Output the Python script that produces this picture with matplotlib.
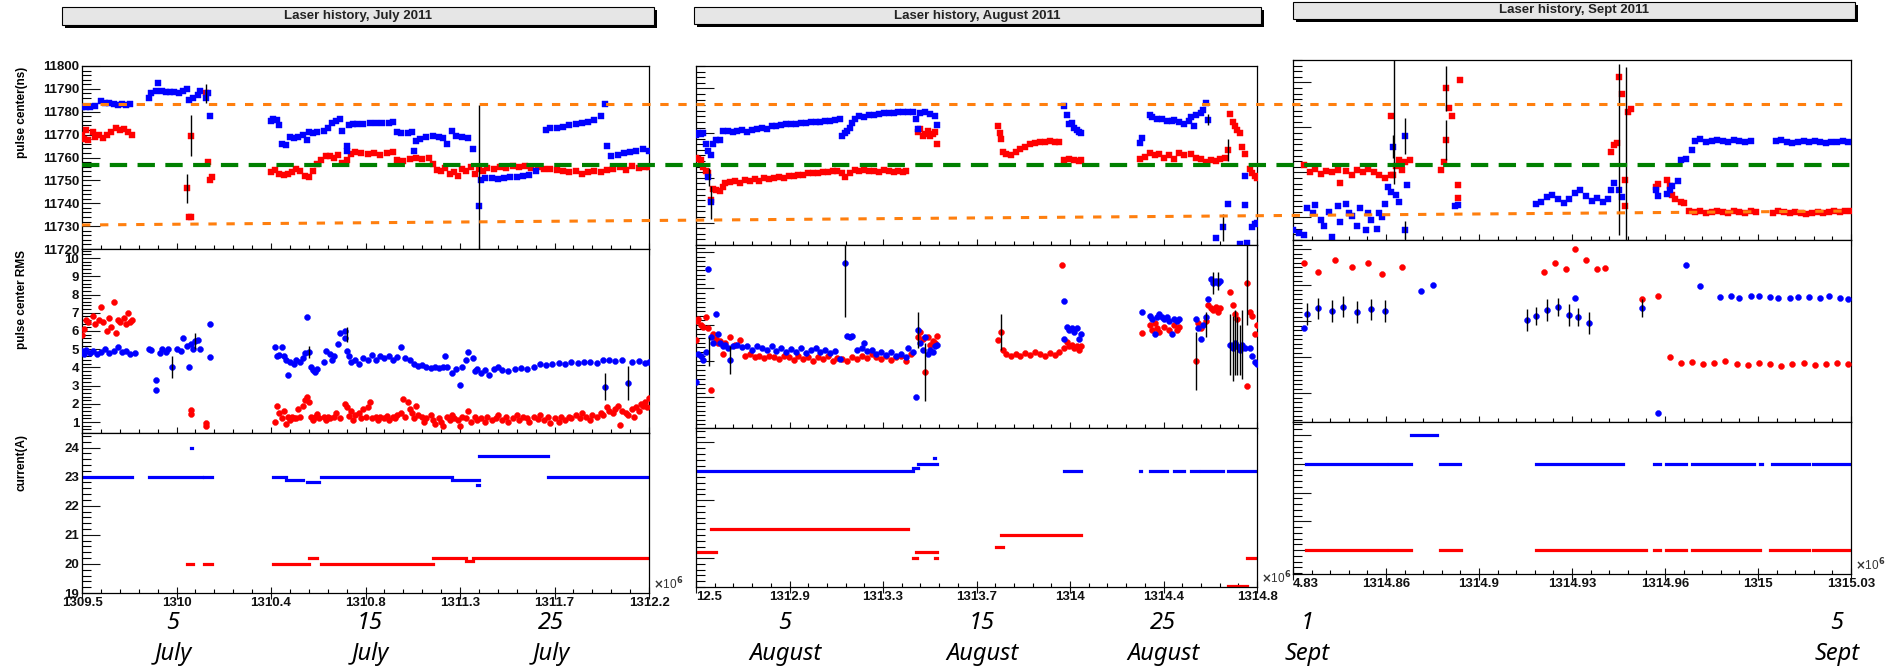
import numpy as np
import matplotlib
matplotlib.use("Agg")
import matplotlib.pyplot as plt
import matplotlib.transforms as mtransforms
from matplotlib.lines import Line2D
from matplotlib.patches import Rectangle
from matplotlib.ticker import (FixedLocator, MultipleLocator, AutoMinorLocator,
                               FormatStrFormatter, NullFormatter)


# =========================================================
# Data (time in units of 1e6 s)
# =========================================================

# ---- July : pulse center (ns) ----
JUL_TOP_BLUE = [
    (1309.50, 11782), (1309.52, 11782), (1309.54, 11782), (1309.56, 11782.5),
    (1309.59, 11784.5), (1309.61, 11784), (1309.63, 11784), (1309.65, 11783.5), (1309.67, 11783),
    (1309.69, 11783.5), (1309.71, 11783), (1309.73, 11783.5),
    (1309.82, 11786), (1309.83, 11788), (1309.85, 11789), (1309.86, 11792.5), (1309.88, 11789),
    (1309.90, 11788.5), (1309.92, 11788.5), (1309.94, 11788.5), (1309.96, 11788), (1309.98, 11789),
    (1310.00, 11790), (1310.01, 11785), (1310.03, 11786), (1310.05, 11787.5), (1310.06, 11789),
    (1310.09, 11786), (1310.10, 11788), (1310.11, 11778),
    (1310.40, 11776), (1310.41, 11777), (1310.43, 11776.5), (1310.44, 11774), (1310.45, 11766),
    (1310.47, 11765.5), (1310.49, 11769), (1310.51, 11768.5), (1310.53, 11769), (1310.55, 11770),
    (1310.57, 11767.5), (1310.58, 11771), (1310.60, 11770.5), (1310.62, 11771), (1310.65, 11771.5),
    (1310.67, 11773), (1310.69, 11775), (1310.71, 11776), (1310.73, 11777), (1310.74, 11771.5),
    (1310.76, 11765), (1310.76, 11763), (1310.77, 11774), (1310.79, 11774.5), (1310.81, 11774.5),
    (1310.84, 11774.5), (1310.87, 11775), (1310.90, 11775), (1310.93, 11775), (1310.96, 11775),
    (1310.98, 11775.5), (1311.00, 11771), (1311.02, 11770.5), (1311.05, 11770.5), (1311.07, 11771),
    (1311.08, 11763), (1311.09, 11767), (1311.11, 11768), (1311.14, 11769), (1311.17, 11769.5),
    (1311.20, 11769), (1311.22, 11768.5), (1311.24, 11766), (1311.26, 11771.5), (1311.28, 11769.5),
    (1311.31, 11769), (1311.34, 11768.5), (1311.36, 11763.5), (1311.39, 11739),
    (1311.40, 11750), (1311.42, 11751), (1311.45, 11751), (1311.48, 11750.5), (1311.51, 11751),
    (1311.54, 11751.5), (1311.57, 11751.5), (1311.60, 11752), (1311.63, 11752.5), (1311.66, 11754),
    (1311.71, 11772), (1311.73, 11773), (1311.76, 11773), (1311.79, 11773.5), (1311.82, 11774),
    (1311.85, 11774.5), (1311.88, 11775), (1311.91, 11775.5), (1311.94, 11776.5), (1311.97, 11778),
    (1311.99, 11783.5), (1312.00, 11765), (1312.02, 11760.5), (1312.05, 11761), (1312.08, 11762),
    (1312.11, 11762.5), (1312.14, 11763), (1312.17, 11763.5), (1312.20, 11763),
]
JUL_TOP_RED = [
    (1309.50, 11770), (1309.51, 11768), (1309.52, 11772), (1309.53, 11767.5), (1309.55, 11771),
    (1309.56, 11769), (1309.58, 11770), (1309.60, 11768.5), (1309.62, 11770), (1309.64, 11771),
    (1309.66, 11773), (1309.68, 11772), (1309.70, 11772.5), (1309.72, 11771), (1309.74, 11770),
    (1310.00, 11746.5), (1310.01, 11734), (1310.02, 11734), (1310.02, 11769.5), (1310.09, 11788),
    (1310.10, 11758), (1310.11, 11750), (1310.12, 11751.5),
    (1310.40, 11753.5), (1310.42, 11754.5), (1310.44, 11753), (1310.46, 11752.5), (1310.48, 11753),
    (1310.50, 11753.5), (1310.52, 11755), (1310.54, 11754), (1310.56, 11752), (1310.58, 11751.5),
    (1310.60, 11754), (1310.62, 11757), (1310.64, 11759), (1310.66, 11760.5), (1310.68, 11760.5),
    (1310.70, 11760), (1310.72, 11761), (1310.74, 11757.5), (1310.76, 11759), (1310.78, 11761.5),
    (1310.80, 11762.5), (1310.83, 11762), (1310.86, 11761.5), (1310.89, 11762), (1310.92, 11761),
    (1310.95, 11762), (1310.98, 11762.5), (1311.00, 11759), (1311.03, 11758.5), (1311.06, 11759.5),
    (1311.09, 11760), (1311.12, 11759.5), (1311.15, 11760), (1311.17, 11757), (1311.19, 11754.5),
    (1311.21, 11754), (1311.23, 11755.5), (1311.25, 11753), (1311.27, 11753.5), (1311.29, 11752),
    (1311.31, 11755), (1311.33, 11754), (1311.35, 11756), (1311.37, 11753), (1311.39, 11755),
    (1311.41, 11754), (1311.43, 11755.5), (1311.46, 11755), (1311.49, 11756), (1311.52, 11755.5),
    (1311.55, 11756.5), (1311.58, 11756), (1311.61, 11756.5), (1311.64, 11755.5), (1311.67, 11756),
    (1311.70, 11755), (1311.73, 11755), (1311.76, 11754.5), (1311.79, 11754), (1311.82, 11753.5),
    (1311.85, 11754), (1311.88, 11753), (1311.91, 11753.5), (1311.94, 11754), (1311.97, 11753.5),
    (1312.00, 11754.5), (1312.03, 11755), (1312.06, 11756), (1312.09, 11754.5), (1312.12, 11756.5),
    (1312.15, 11755.5), (1312.18, 11756), (1312.20, 11756),
]
JUL_TOP_ERR = [(1310.00, 11746.5, 6.5), (1310.02, 11769.5, 9), (1310.09, 11788, 4),
               (1311.39, 11739, 44)]

# ---- July : pulse center RMS ----
JUL_RMS_BLUE = [
    (1309.50, 4.9), (1309.51, 4.75), (1309.52, 4.95), (1309.54, 4.8), (1309.55, 4.9), (1309.57, 4.75),
    (1309.59, 4.85), (1309.61, 5.0), (1309.63, 4.8), (1309.65, 4.9), (1309.67, 5.1), (1309.69, 4.85),
    (1309.71, 4.9), (1309.73, 4.75), (1309.75, 4.8),
    (1309.82, 5.0), (1309.83, 4.95), (1309.85, 3.3), (1309.85, 2.75), (1309.87, 4.8), (1309.88, 5.0),
    (1309.90, 4.85), (1309.91, 5.0), (1309.93, 4.0), (1309.95, 5.0), (1309.97, 4.9), (1309.98, 5.6),
    (1310.00, 5.2), (1310.01, 4.05), (1310.02, 5.3), (1310.03, 5.0), (1310.04, 5.45), (1310.05, 5.5),
    (1310.06, 5.0), (1310.11, 6.4), (1310.11, 4.55),
    (1310.42, 5.1), (1310.43, 4.6), (1310.44, 4.7), (1310.45, 5.1), (1310.46, 4.6), (1310.47, 4.4),
    (1310.48, 3.6), (1310.49, 4.3), (1310.51, 4.2), (1310.52, 4.4), (1310.54, 4.3), (1310.55, 4.5),
    (1310.56, 4.8), (1310.57, 6.75), (1310.58, 4.85), (1310.59, 4.0), (1310.60, 3.85), (1310.61, 3.75),
    (1310.62, 3.9), (1310.65, 4.3), (1310.66, 4.9), (1310.68, 4.75), (1310.69, 4.4), (1310.70, 4.65),
    (1310.72, 5.3), (1310.73, 5.9), (1310.75, 6.0), (1310.75, 5.6), (1310.76, 4.9), (1310.77, 4.6),
    (1310.78, 4.3), (1310.80, 4.4), (1310.82, 4.2), (1310.84, 4.5), (1310.86, 4.4), (1310.88, 4.7),
    (1310.90, 4.4), (1310.92, 4.6), (1310.94, 4.5), (1310.96, 4.6), (1310.98, 4.4), (1311.00, 4.55),
    (1311.02, 5.1), (1311.04, 4.5), (1311.06, 4.4), (1311.08, 4.2), (1311.10, 4.1), (1311.12, 4.15),
    (1311.14, 4.0), (1311.16, 3.95), (1311.18, 4.0), (1311.20, 3.95), (1311.22, 4.05), (1311.23, 4.6),
    (1311.24, 4.0), (1311.26, 3.7), (1311.28, 3.9), (1311.30, 3.05), (1311.31, 4.0), (1311.33, 4.4),
    (1311.34, 4.85), (1311.36, 4.5), (1311.37, 3.8), (1311.38, 3.9), (1311.40, 3.7), (1311.42, 3.85),
    (1311.44, 3.6), (1311.46, 3.9), (1311.48, 4.0), (1311.50, 3.85), (1311.53, 3.8), (1311.56, 3.9),
    (1311.59, 3.95), (1311.62, 3.9), (1311.65, 4.0), (1311.68, 4.2), (1311.71, 4.15), (1311.74, 4.2),
    (1311.77, 4.25), (1311.80, 4.2), (1311.83, 4.3), (1311.86, 4.25), (1311.89, 4.3), (1311.92, 4.3),
    (1311.95, 4.25), (1311.98, 4.4), (1311.99, 2.95), (1312.01, 4.4), (1312.04, 4.35), (1312.07, 4.4),
    (1312.10, 3.15), (1312.12, 4.3), (1312.15, 4.35), (1312.18, 4.25), (1312.20, 4.3),
]
JUL_RMS_RED = [
    (1309.50, 5.8), (1309.51, 6.1), (1309.52, 6.6), (1309.53, 6.5), (1309.55, 6.8), (1309.56, 6.4),
    (1309.58, 6.6), (1309.59, 7.3), (1309.60, 6.5), (1309.62, 6.0), (1309.63, 6.7), (1309.64, 6.2),
    (1309.65, 7.6), (1309.66, 5.9), (1309.67, 6.6), (1309.68, 6.5), (1309.70, 6.7), (1309.71, 6.4),
    (1309.72, 7.0), (1309.73, 6.5), (1309.74, 6.6),
    (1310.02, 1.45), (1310.02, 1.65), (1310.09, 0.8), (1310.09, 0.95),
    (1310.42, 1.0), (1310.43, 1.9), (1310.44, 1.5), (1310.45, 1.2), (1310.46, 1.6), (1310.47, 0.9),
    (1310.48, 1.3), (1310.49, 1.1), (1310.50, 1.3), (1310.51, 1.2), (1310.52, 1.25), (1310.53, 1.7),
    (1310.54, 1.3), (1310.55, 1.9), (1310.56, 2.2), (1310.57, 2.35), (1310.58, 2.1), (1310.59, 1.3),
    (1310.60, 1.1), (1310.61, 1.3), (1310.62, 1.45), (1310.63, 1.2), (1310.65, 1.3), (1310.66, 1.1),
    (1310.67, 1.3), (1310.68, 1.2), (1310.70, 1.3), (1310.71, 1.5), (1310.73, 1.2), (1310.75, 2.0),
    (1310.76, 1.8), (1310.77, 1.35), (1310.78, 1.6), (1310.79, 1.1), (1310.80, 1.4), (1310.82, 1.5),
    (1310.83, 1.2), (1310.84, 1.7), (1310.85, 1.3), (1310.86, 1.8), (1310.87, 2.1), (1310.88, 1.2),
    (1310.90, 1.3), (1310.91, 1.1), (1310.92, 1.3), (1310.94, 1.2), (1310.95, 1.35), (1310.96, 1.1),
    (1310.98, 1.3), (1310.99, 1.2), (1311.00, 1.4), (1311.02, 1.5), (1311.03, 2.25), (1311.04, 1.3),
    (1311.05, 2.1), (1311.06, 1.7), (1311.07, 1.5), (1311.08, 1.2), (1311.09, 1.9), (1311.10, 1.4),
    (1311.12, 1.3), (1311.13, 1.0), (1311.14, 1.2), (1311.16, 1.4), (1311.17, 1.1), (1311.18, 0.9),
    (1311.20, 1.2), (1311.21, 1.0), (1311.22, 0.8), (1311.24, 1.3), (1311.25, 1.1), (1311.26, 1.4),
    (1311.27, 1.2), (1311.29, 1.1), (1311.30, 0.8), (1311.31, 1.3), (1311.33, 1.2), (1311.34, 1.6),
    (1311.35, 1.0), (1311.37, 1.3), (1311.38, 1.1), (1311.40, 1.2), (1311.42, 1.0), (1311.43, 1.3),
    (1311.45, 1.1), (1311.47, 1.2), (1311.48, 1.4), (1311.50, 1.1), (1311.52, 1.3), (1311.53, 1.0),
    (1311.55, 1.2), (1311.57, 1.4), (1311.58, 1.1), (1311.60, 1.3), (1311.62, 1.2), (1311.63, 1.0),
    (1311.65, 1.3), (1311.67, 1.15), (1311.68, 1.4), (1311.70, 1.1), (1311.72, 1.3), (1311.73, 0.95),
    (1311.75, 1.2), (1311.77, 1.0), (1311.78, 1.3), (1311.80, 1.1), (1311.82, 1.3), (1311.83, 1.2),
    (1311.85, 1.4), (1311.87, 1.2), (1311.88, 1.5), (1311.90, 1.3), (1311.92, 1.1), (1311.93, 1.4),
    (1311.95, 1.3), (1311.97, 1.5), (1311.98, 1.4), (1312.00, 1.8), (1312.01, 1.6), (1312.03, 1.5),
    (1312.04, 1.7), (1312.05, 1.9), (1312.06, 0.85), (1312.07, 1.6), (1312.09, 1.5), (1312.10, 1.4),
    (1312.12, 1.7), (1312.13, 1.3), (1312.14, 1.8), (1312.15, 1.6), (1312.16, 2.0), (1312.17, 1.9),
    (1312.18, 2.1), (1312.19, 1.8), (1312.20, 2.3),
]
JUL_RMS_ERR = [(1309.93, 4.0, 0.6), (1310.04, 5.45, 0.45), (1310.58, 4.85, 0.35),
               (1310.76, 5.8, 0.4), (1311.99, 2.95, 0.75), (1312.10, 3.15, 0.95)]

# ---- July : current (A), segments (start, end, level) ----
JUL_CUR_BLUE = [
    (1309.50, 1309.74, 23.0), (1309.82, 1310.07, 23.0), (1310.08, 1310.12, 23.0),
    (1310.02, 1310.025, 24.0), (1310.41, 1310.47, 23.0), (1310.47, 1310.55, 22.9),
    (1310.57, 1310.63, 22.8), (1310.64, 1311.26, 23.0), (1311.26, 1311.39, 22.9),
    (1311.38, 1311.39, 22.7), (1311.39, 1311.72, 23.7), (1311.72, 1312.20, 23.0),
]
JUL_CUR_RED = [
    (1310.00, 1310.03, 20.0), (1310.08, 1310.12, 20.0), (1310.41, 1310.58, 20.0),
    (1310.58, 1310.62, 20.2), (1310.64, 1311.17, 20.0), (1311.17, 1311.33, 20.2),
    (1311.33, 1311.36, 20.1), (1311.36, 1312.20, 20.2),
]

# ---- August : pulse center (ns) ----
AUG_TOP_BLUE = [
    (1312.50, 11769), (1312.51, 11770), (1312.52, 11769.5), (1312.53, 11770), (1312.54, 11765),
    (1312.55, 11762), (1312.55, 11750.5), (1312.56, 11739), (1312.56, 11760), (1312.57, 11765),
    (1312.58, 11767), (1312.60, 11767), (1312.61, 11771), (1312.63, 11771), (1312.65, 11770.5),
    (1312.67, 11771), (1312.69, 11771.5), (1312.71, 11770.5), (1312.73, 11771.5), (1312.75, 11772),
    (1312.77, 11772.5), (1312.79, 11772), (1312.81, 11773), (1312.83, 11773), (1312.85, 11773.5),
    (1312.87, 11774), (1312.89, 11774), (1312.91, 11774), (1312.93, 11774.5), (1312.95, 11774.5),
    (1312.97, 11775), (1312.99, 11775), (1313.01, 11775), (1313.03, 11775.5), (1313.05, 11775.5),
    (1313.07, 11776), (1313.09, 11776.5), (1313.10, 11768.5), (1313.11, 11770), (1313.12, 11771),
    (1313.13, 11772.5), (1313.14, 11774.5), (1313.15, 11776.5), (1313.17, 11777.5), (1313.19, 11777),
    (1313.21, 11778), (1313.23, 11778), (1313.25, 11778.5), (1313.27, 11779), (1313.29, 11779),
    (1313.31, 11779), (1313.33, 11779.5), (1313.35, 11779.5), (1313.37, 11779.5), (1313.39, 11779.5),
    (1313.40, 11776.5), (1313.41, 11772), (1313.42, 11779), (1313.44, 11779.5), (1313.46, 11778.5),
    (1313.48, 11777.5), (1313.49, 11773.5),
    (1314.01, 11782), (1314.02, 11778), (1314.03, 11774), (1314.04, 11774.5), (1314.05, 11772.5),
    (1314.06, 11771.5), (1314.07, 11770.5), (1314.08, 11770),
    (1314.32, 11765.5), (1314.33, 11768), (1314.36, 11778), (1314.37, 11777), (1314.39, 11776.5),
    (1314.41, 11776.5), (1314.43, 11775.5), (1314.45, 11775.5), (1314.46, 11776), (1314.48, 11775),
    (1314.50, 11774), (1314.52, 11775.5), (1314.53, 11777), (1314.54, 11773), (1314.55, 11778),
    (1314.57, 11779), (1314.58, 11780.5), (1314.59, 11783.5), (1314.60, 11776), (1314.63, 11723),
    (1314.66, 11728), (1314.68, 11738.5), (1314.73, 11720.5), (1314.75, 11738), (1314.75, 11751),
    (1314.76, 11721), (1314.78, 11728), (1314.79, 11729.5), (1314.80, 11730),
]
AUG_TOP_RED = [
    (1312.50, 11759), (1312.51, 11758.5), (1312.52, 11758), (1312.53, 11755), (1312.54, 11753),
    (1312.55, 11752), (1312.56, 11740), (1312.57, 11745), (1312.58, 11744.5), (1312.60, 11744),
    (1312.61, 11746), (1312.62, 11747.5), (1312.64, 11748), (1312.66, 11748.5), (1312.68, 11747.5),
    (1312.70, 11749), (1312.72, 11748.5), (1312.74, 11749.5), (1312.76, 11748.5), (1312.78, 11750),
    (1312.80, 11749.5), (1312.82, 11750), (1312.84, 11750.5), (1312.86, 11750), (1312.88, 11751),
    (1312.90, 11751), (1312.92, 11751.5), (1312.94, 11751.5), (1312.96, 11752), (1312.98, 11752),
    (1313.00, 11752), (1313.02, 11752.5), (1313.04, 11752.5), (1313.06, 11753), (1313.08, 11753),
    (1313.10, 11752), (1313.11, 11750.5), (1313.13, 11752), (1313.15, 11753.5), (1313.17, 11753),
    (1313.19, 11753.5), (1313.21, 11753), (1313.23, 11753), (1313.25, 11752.5), (1313.27, 11753.5),
    (1313.29, 11753), (1313.31, 11752.5), (1313.33, 11753), (1313.35, 11752.5), (1313.36, 11753),
    (1313.41, 11770.5), (1313.42, 11772), (1313.43, 11768.5), (1313.44, 11769.5), (1313.45, 11771),
    (1313.46, 11768.5), (1313.47, 11769.5), (1313.48, 11770.5), (1313.49, 11765),
    (1313.74, 11773), (1313.745, 11770), (1313.75, 11767.5), (1313.76, 11761.5), (1313.77, 11760.5),
    (1313.79, 11760), (1313.81, 11761.5), (1313.83, 11763), (1313.85, 11764), (1313.87, 11765),
    (1313.89, 11765.5), (1313.91, 11766), (1313.93, 11766), (1313.95, 11766.5), (1313.97, 11766),
    (1313.99, 11766), (1314.01, 11758), (1314.03, 11758.5), (1314.05, 11758), (1314.07, 11757.5),
    (1314.08, 11758),
    (1314.32, 11758.5), (1314.34, 11759.5), (1314.36, 11761), (1314.38, 11760), (1314.40, 11760.5),
    (1314.42, 11759), (1314.44, 11760), (1314.46, 11758.5), (1314.48, 11761), (1314.50, 11760),
    (1314.53, 11760.5), (1314.55, 11759), (1314.57, 11758.5), (1314.59, 11757), (1314.61, 11758),
    (1314.63, 11757.5), (1314.65, 11758.5), (1314.67, 11759), (1314.68, 11762.5), (1314.69, 11778.5),
    (1314.70, 11775), (1314.71, 11773), (1314.72, 11771.5), (1314.73, 11770), (1314.74, 11764),
    (1314.75, 11760.5), (1314.77, 11754), (1314.78, 11752), (1314.79, 11751), (1314.80, 11750),
]
AUG_TOP_ERR = [(1312.555, 11750.5, 4), (1312.56, 11739, 7.5), (1314.60, 11776, 2.5),
               (1314.66, 11728, 6), (1314.68, 11762.5, 5)]

# ---- August : pulse center RMS ----
AUG_RMS_BLUE = [
    (1312.50, 2.85), (1312.51, 4.4), (1312.52, 4.3), (1312.53, 4.05), (1312.54, 4.5), (1312.55, 9.1),
    (1312.56, 5.3), (1312.57, 5.0), (1312.58, 6.6), (1312.59, 5.5), (1312.60, 5.0), (1312.61, 4.8),
    (1312.62, 4.9), (1312.63, 4.7), (1312.64, 4.05), (1312.65, 4.8), (1312.67, 4.9), (1312.69, 4.75),
    (1312.71, 4.85), (1312.73, 4.6), (1312.75, 4.8), (1312.77, 4.7), (1312.79, 4.6), (1312.81, 4.8),
    (1312.83, 4.55), (1312.85, 4.7), (1312.87, 4.5), (1312.89, 4.65), (1312.91, 4.5), (1312.93, 4.7),
    (1312.95, 4.45), (1312.97, 4.6), (1312.99, 4.7), (1313.01, 4.5), (1313.03, 4.6), (1313.05, 4.45),
    (1313.07, 4.55), (1313.09, 4.1), (1313.11, 9.4), (1313.12, 5.4), (1313.13, 5.3), (1313.14, 5.4),
    (1313.16, 4.6), (1313.18, 4.7), (1313.19, 5.0), (1313.20, 4.55), (1313.22, 4.6), (1313.24, 4.4),
    (1313.26, 4.5), (1313.28, 4.35), (1313.30, 4.5), (1313.32, 4.3), (1313.34, 4.4), (1313.36, 4.2),
    (1313.37, 4.7), (1313.39, 4.5), (1313.40, 2.0), (1313.41, 5.7), (1313.42, 5.0), (1313.43, 4.6),
    (1313.44, 5.3), (1313.45, 4.4), (1313.46, 4.6), (1313.47, 4.5), (1313.48, 4.8), (1313.49, 4.9),
    (1314.01, 7.3), (1314.01, 5.2), (1314.02, 5.9), (1314.03, 5.7), (1314.04, 5.8), (1314.05, 5.6),
    (1314.06, 5.8), (1314.07, 5.2), (1314.08, 5.5),
    (1314.33, 6.7), (1314.36, 6.5), (1314.37, 6.3), (1314.38, 5.5), (1314.39, 6.4), (1314.40, 6.6),
    (1314.41, 6.45), (1314.42, 6.3), (1314.43, 6.4), (1314.44, 6.2), (1314.45, 5.5), (1314.46, 6.3),
    (1314.47, 6.2), (1314.48, 6.3), (1314.55, 6.3), (1314.56, 5.8), (1314.57, 5.2), (1314.58, 6.0),
    (1314.59, 6.4), (1314.60, 7.4), (1314.61, 8.55), (1314.62, 8.3), (1314.63, 8.4), (1314.64, 8.3),
    (1314.65, 8.4), (1314.69, 4.9), (1314.70, 4.7), (1314.71, 5.0), (1314.72, 4.8), (1314.73, 4.6),
    (1314.74, 4.9), (1314.75, 4.7), (1314.77, 4.7), (1314.78, 4.3), (1314.79, 3.95), (1314.80, 3.85),
]
AUG_RMS_RED = [
    (1312.50, 5.15), (1312.505, 6.2), (1312.51, 6.3), (1312.52, 6.0), (1312.53, 5.9), (1312.54, 6.4),
    (1312.55, 5.8), (1312.56, 2.4), (1312.57, 5.5), (1312.58, 5.2), (1312.59, 5.0), (1312.60, 5.1),
    (1312.61, 4.4), (1312.62, 5.0), (1312.64, 5.3), (1312.66, 4.9), (1312.68, 5.15), (1312.70, 4.3),
    (1312.72, 4.4), (1312.74, 4.2), (1312.76, 4.3), (1312.78, 4.15), (1312.80, 4.3), (1312.82, 4.2),
    (1312.84, 4.1), (1312.86, 4.3), (1312.88, 4.2), (1312.90, 4.05), (1312.92, 4.25), (1312.94, 4.1),
    (1312.96, 4.2), (1312.98, 4.0), (1313.00, 4.2), (1313.02, 4.1), (1313.04, 4.3), (1313.06, 4.0),
    (1313.08, 4.15), (1313.10, 4.1), (1313.12, 4.0), (1313.14, 4.2), (1313.16, 4.1), (1313.18, 4.3),
    (1313.20, 4.15), (1313.22, 4.4), (1313.24, 4.2), (1313.26, 4.1), (1313.28, 4.3), (1313.30, 4.05),
    (1313.32, 4.2), (1313.34, 4.3), (1313.36, 4.0), (1313.38, 4.4),
    (1313.41, 5.3), (1313.42, 5.6), (1313.43, 5.2), (1313.44, 3.4), (1313.45, 5.3), (1313.46, 4.9),
    (1313.47, 5.1), (1313.48, 5.0), (1313.49, 5.4),
    (1313.74, 5.15), (1313.75, 5.6), (1313.76, 4.6), (1313.77, 4.4), (1313.79, 4.3), (1313.81, 4.4),
    (1313.83, 4.3), (1313.85, 4.45), (1313.87, 4.35), (1313.89, 4.5), (1313.91, 4.4), (1313.93, 4.3),
    (1313.95, 4.45), (1313.97, 4.35), (1313.99, 4.5), (1314.00, 9.3), (1314.01, 4.7), (1314.02, 5.05),
    (1314.03, 4.8), (1314.04, 4.9), (1314.05, 4.7), (1314.06, 4.8), (1314.07, 4.6), (1314.08, 4.8),
    (1314.33, 5.55), (1314.36, 6.0), (1314.37, 5.7), (1314.38, 6.1), (1314.39, 5.8), (1314.40, 5.6),
    (1314.42, 5.9), (1314.44, 5.7), (1314.46, 6.0), (1314.47, 5.7), (1314.48, 5.9), (1314.55, 4.0),
    (1314.56, 6.1), (1314.57, 5.8), (1314.59, 6.2), (1314.60, 7.1), (1314.61, 6.9), (1314.62, 6.8),
    (1314.63, 7.0), (1314.64, 6.7), (1314.65, 6.9), (1314.69, 7.8), (1314.70, 7.1), (1314.71, 6.6),
    (1314.72, 6.3), (1314.76, 2.6), (1314.76, 8.3), (1314.77, 6.7), (1314.78, 6.5), (1314.79, 5.5),
    (1314.80, 6.0),
]
AUG_RMS_ERR = [(1312.555, 4.5, 0.8), (1312.64, 4.05, 0.75), (1313.11, 9.4, 3.0), (1313.41, 5.7, 1.0),
               (1313.44, 3.4, 1.6), (1313.75, 5.6, 1.0), (1314.55, 4.0, 1.6), (1314.59, 6.0, 0.7),
               (1314.62, 8.3, 0.6), (1314.64, 8.4, 0.5), (1314.69, 4.9, 1.7), (1314.70, 4.7, 1.8),
               (1314.71, 5.0, 1.8), (1314.72, 4.8, 1.6), (1314.73, 4.6, 1.4), (1314.74, 4.9, 1.9),
               (1314.76, 8.3, 2.3)]

# ---- August : current (A) ----
AUG_CUR_BLUE = [
    (1312.50, 1313.39, 23.0), (1313.39, 1313.41, 23.1), (1313.41, 1313.49, 23.25),
    (1313.475, 1313.48, 23.45), (1314.01, 1314.08, 23.0), (1314.32, 1314.325, 23.0),
    (1314.36, 1314.43, 23.0), (1314.46, 1314.50, 23.0), (1314.53, 1314.56, 23.0),
    (1314.57, 1314.66, 23.0), (1314.68, 1314.80, 23.0),
]
AUG_CUR_RED = [
    (1312.50, 1312.58, 20.2), (1312.56, 1313.37, 21.0), (1313.39, 1313.405, 20.0),
    (1313.40, 1313.49, 20.2), (1313.48, 1313.49, 20.0), (1313.73, 1313.76, 20.4),
    (1313.75, 1314.08, 20.8), (1314.68, 1314.76, 19.05), (1314.76, 1314.80, 20.0),
]

# ---- September : pulse center (ns) ----
SEP_TOP_BLUE = [
    (1314.830, 11724.5), (1314.832, 11723), (1314.834, 11722), (1314.835, 11734), (1314.837, 11732),
    (1314.838, 11735.5), (1314.840, 11729), (1314.841, 11726), (1314.843, 11732.5), (1314.844, 11721.5),
    (1314.846, 11735), (1314.847, 11728), (1314.849, 11736), (1314.850, 11732), (1314.851, 11730.5),
    (1314.853, 11726), (1314.854, 11734), (1314.856, 11724.5), (1314.857, 11732), (1314.858, 11729),
    (1314.860, 11725), (1314.861, 11732), (1314.862, 11730), (1314.863, 11736), (1314.864, 11743.5),
    (1314.865, 11741.5), (1314.866, 11761.5), (1314.867, 11740), (1314.868, 11737), (1314.870, 11766),
    (1314.870, 11724.5), (1314.871, 11744.5), (1314.888, 11735), (1314.889, 11735.5),
    (1314.917, 11736), (1314.919, 11737), (1314.921, 11739), (1314.923, 11740), (1314.925, 11738),
    (1314.927, 11736.5), (1314.929, 11738), (1314.931, 11741), (1314.933, 11742), (1314.935, 11739.5),
    (1314.937, 11737.5), (1314.939, 11738.5), (1314.941, 11737), (1314.943, 11738), (1314.944, 11742),
    (1314.945, 11745.5), (1314.947, 11742), (1314.948, 11739),
    (1314.960, 11742), (1314.961, 11739.5), (1314.964, 11740.5), (1314.965, 11742), (1314.966, 11744),
    (1314.968, 11746), (1314.969, 11755.5), (1314.971, 11756), (1314.973, 11760), (1314.974, 11764),
    (1314.976, 11765), (1314.978, 11763.5), (1314.980, 11764), (1314.982, 11764.5), (1314.984, 11764),
    (1314.986, 11763.5), (1314.988, 11764.5), (1314.990, 11764), (1314.992, 11763.5), (1314.994, 11764),
    (1315.003, 11764), (1315.005, 11764.5), (1315.007, 11763.5), (1315.009, 11763), (1315.011, 11763.5),
    (1315.013, 11764), (1315.015, 11763.5), (1315.017, 11764), (1315.019, 11763.5), (1315.021, 11763),
    (1315.023, 11763.5), (1315.025, 11763.5), (1315.027, 11764), (1315.029, 11763.5),
]
SEP_TOP_RED = [
    (1314.834, 11753.3), (1314.836, 11750), (1314.838, 11751.5), (1314.840, 11749.5), (1314.842, 11750.5),
    (1314.844, 11750), (1314.846, 11751), (1314.847, 11745.5), (1314.849, 11750.5), (1314.851, 11749),
    (1314.853, 11751), (1314.855, 11750), (1314.857, 11751.5), (1314.859, 11750), (1314.861, 11749),
    (1314.863, 11747.5), (1314.865, 11749), (1314.865, 11775), (1314.866, 11749), (1314.867, 11753),
    (1314.868, 11755.5), (1314.869, 11751), (1314.870, 11754.5), (1314.872, 11755.5),
    (1314.883, 11751), (1314.884, 11754.5), (1314.885, 11764.5), (1314.885, 11787.5), (1314.886, 11778.5),
    (1314.887, 11775), (1314.889, 11744.5), (1314.889, 11738.5), (1314.890, 11791),
    (1314.944, 11759), (1314.945, 11762), (1314.946, 11763), (1314.947, 11792.5), (1314.948, 11785),
    (1314.949, 11746.5), (1314.949, 11735), (1314.950, 11777), (1314.951, 11778),
    (1314.960, 11743.5), (1314.961, 11745), (1314.964, 11746.5), (1314.965, 11744), (1314.966, 11740),
    (1314.967, 11738), (1314.969, 11737), (1314.970, 11736.5), (1314.972, 11733), (1314.974, 11732.5),
    (1314.976, 11733), (1314.978, 11732), (1314.980, 11732.5), (1314.982, 11733), (1314.984, 11732.5),
    (1314.986, 11732), (1314.988, 11733), (1314.990, 11732.5), (1314.992, 11732), (1314.994, 11733),
    (1314.996, 11732.5), (1315.002, 11732), (1315.004, 11733), (1315.006, 11732.5), (1315.008, 11732),
    (1315.010, 11732.5), (1315.012, 11732), (1315.014, 11731.5), (1315.016, 11732), (1315.018, 11732.5),
    (1315.020, 11732), (1315.022, 11732.5), (1315.024, 11733), (1315.026, 11732.5), (1315.028, 11733),
    (1315.030, 11733),
]
SEP_TOP_ERR = [(1314.8662, 11773, 28), (1314.866, 11761.5, 5), (1314.870, 11766, 8),
               (1314.870, 11724.5, 4), (1314.885, 11764.5, 9), (1314.885, 11787.5, 10),
               (1314.947, 11760, 38), (1314.9495, 11747, 50)]

# ---- September : pulse center RMS ----
SEP_RMS_BLUE = [
    (1314.834, 5.6), (1314.835, 6.4), (1314.839, 6.7), (1314.844, 6.55), (1314.848, 6.8),
    (1314.853, 6.5), (1314.858, 6.65), (1314.863, 6.55), (1314.876, 7.67), (1314.880, 8.0),
    (1314.914, 6.05), (1314.917, 6.3), (1314.921, 6.6), (1314.925, 6.8), (1314.929, 6.35),
    (1314.931, 7.3), (1314.932, 6.2), (1314.936, 5.9),
    (1314.955, 6.7), (1314.961, 0.9), (1314.971, 9.1), (1314.976, 7.95), (1314.983, 7.35),
    (1314.987, 7.4), (1314.990, 7.3), (1314.994, 7.4), (1314.997, 7.4), (1315.001, 7.35),
    (1315.004, 7.3), (1315.008, 7.3), (1315.011, 7.35), (1315.015, 7.35), (1315.019, 7.3),
    (1315.022, 7.4), (1315.026, 7.3), (1315.029, 7.25),
]
SEP_RMS_RED = [
    (1314.834, 9.2), (1314.839, 8.7), (1314.845, 9.4), (1314.851, 9.0), (1314.857, 9.2),
    (1314.862, 8.6), (1314.869, 9.0),
    (1314.920, 8.7), (1314.924, 9.2), (1314.928, 8.9), (1314.931, 10.0), (1314.935, 9.4),
    (1314.939, 8.9), (1314.942, 8.95), (1314.955, 7.2), (1314.961, 7.4),
    (1314.965, 4.0), (1314.969, 3.7), (1314.973, 3.75), (1314.977, 3.6), (1314.981, 3.7),
    (1314.985, 3.8), (1314.989, 3.6), (1314.993, 3.55), (1314.997, 3.7), (1315.001, 3.6),
    (1315.005, 3.5), (1315.009, 3.6), (1315.013, 3.7), (1315.017, 3.55), (1315.021, 3.6),
    (1315.025, 3.65), (1315.029, 3.6),
]
SEP_RMS_ERR = [(1314.835, 6.4, 0.6), (1314.839, 6.7, 0.6), (1314.844, 6.55, 0.6), (1314.848, 6.8, 0.6),
               (1314.853, 6.5, 0.6), (1314.858, 6.65, 0.6), (1314.863, 6.55, 0.6),
               (1314.914, 6.05, 0.6), (1314.917, 6.3, 0.5), (1314.921, 6.6, 0.6), (1314.925, 6.8, 0.5),
               (1314.929, 6.35, 0.6), (1314.932, 6.2, 0.5), (1314.936, 5.9, 0.6), (1314.955, 6.7, 0.5)]

# ---- September : current (A) ----
SEP_CUR_BLUE = [
    (1314.8345, 1314.8633, 23), (1314.8644, 1314.8724, 23), (1314.8724, 1314.8816, 24),
    (1314.8827, 1314.8900, 23), (1314.9170, 1314.9483, 23), (1314.9595, 1314.9617, 23),
    (1314.9638, 1314.9708, 23), (1314.9729, 1314.9954, 23), (1314.9975, 1314.9980, 23),
    (1315.0017, 1315.0150, 23), (1315.0164, 1315.0300, 23),
]
SEP_CUR_RED = [
    (1314.8345, 1314.8633, 20), (1314.8644, 1314.8724, 20), (1314.8827, 1314.8903, 20),
    (1314.9170, 1314.9567, 20), (1314.9595, 1314.9617, 20), (1314.9638, 1314.9708, 20),
    (1314.9729, 1314.9975, 20), (1315.0010, 1315.0150, 20), (1315.0164, 1315.0300, 20),
]

# ---- reference levels (ns), left end / right end ----
REF_UPPER = [11783.3, 11783.3]
REF_NOMINAL = [11756.9, 11756.9]
REF_LOWER = [11730.5, 11736.6]

# ---- axis tick labels ----
JUL_XTICK_LABELS = ["1309.5", "1310", "1310.4", "1310.8", "1311.3", "1311.7", "1312.2"]
AUG_XTICK_LABELS = ["12.5", "1312.9", "1313.3", "1313.7", "1314", "1314.4", "1314.8"]
SEP_XTICK_LABELS = ["4.83", "1314.86", "1314.9", "1314.93", "1314.96", "1315", "1315.03"]
ROW_TITLES = ["pulse center(ns)", "pulse center RMS", "current(A)"]

# ---- date annotations under the panels ----
DATE_DAYS = ["5", "15", "25", "5", "15", "25", "1", "5"]
DATE_MONTHS = ["July", "July", "July", "August", "August", "August", "Sept", "Sept"]


# =========================================================
# Layout (pixels on the 1895 x 669 canvas) and styles
# =========================================================
W, H = 1895, 669
BLUE, RED = "#0000ff", "#ff0000"
ORANGE, GREEN = "#ff7f0e", "#008000"
DATE_X_PX = [173, 370, 551, 785, 982, 1163, 1307, 1837]

PANELS = [
    dict(title="Laser history, July 2011", title_px=(62, 654, 7, 25),
         x_px=(82, 649), y_px=(66, 249, 433, 593), xlim=(1309.5, 1312.2),
         xlabels=JUL_XTICK_LABELS, first_left=False, ylabels=True,
         ylims=[(11720, 11800), (0.4, 10.5), (19, 24.5)],
         yloc=[(10, 0, 5), (1, 0, 5), (1, 0, 5)],
         top=(JUL_TOP_BLUE, JUL_TOP_RED, JUL_TOP_ERR),
         rms=(JUL_RMS_BLUE, JUL_RMS_RED, JUL_RMS_ERR),
         cur=(JUL_CUR_BLUE, JUL_CUR_RED)),
    dict(title="Laser history, August 2011", title_px=(694, 1261, 7, 24),
         x_px=(696, 1257), y_px=(66, 245, 428, 587), xlim=(1312.5, 1314.8),
         xlabels=AUG_XTICK_LABELS, first_left=True, ylabels=False,
         ylims=[(11720, 11800), (0.3, 10.4), (19, 24.5)],
         yloc=[(20, 10, 8), (2, 0, 8), (2, 0, 10)],
         top=(AUG_TOP_BLUE, AUG_TOP_RED, AUG_TOP_ERR),
         rms=(AUG_RMS_BLUE, AUG_RMS_RED, AUG_RMS_ERR),
         cur=(AUG_CUR_BLUE, AUG_CUR_RED)),
    dict(title="Laser history, Sept 2011", title_px=(1293, 1855, 2, 19),
         x_px=(1293, 1851), y_px=(60, 240, 422, 574), xlim=(1314.83, 1315.03),
         xlabels=SEP_XTICK_LABELS, first_left=True, ylabels=False,
         ylims=[(11720, 11800), (0.4, 10.5), (19.17, 24.46)],
         yloc=[(20, 10, 8), (2, 0, 8), (1, 0, 5)],
         top=(SEP_TOP_BLUE, SEP_TOP_RED, SEP_TOP_ERR),
         rms=(SEP_RMS_BLUE, SEP_RMS_RED, SEP_RMS_ERR),
         cur=(SEP_CUR_BLUE, SEP_CUR_RED)),
]

plt.rcParams["font.family"] = ["Liberation Sans", "DejaVu Sans"]
plt.rcParams["font.weight"] = "bold"
plt.rcParams["lines.scale_dashes"] = False


def px_rect(x0, x1, y0, y1):
    return [x0 / W, 1 - y1 / H, (x1 - x0) / W, (y1 - y0) / H]


def style_axes(ax, p, row):
    lo, hi = p["xlim"]
    ax.set_xlim(lo, hi)
    ax.set_ylim(*p["ylims"][row])
    ax.xaxis.set_major_locator(FixedLocator(np.linspace(lo, hi, 7)))
    ax.xaxis.set_minor_locator(AutoMinorLocator(5))
    base, off, nminor = p["yloc"][row]
    ax.yaxis.set_major_locator(MultipleLocator(base, offset=off))
    ax.yaxis.set_minor_locator(AutoMinorLocator(nminor))
    ax.tick_params(axis="y", which="major", direction="in", length=13, width=0.8, pad=2,
                   labelsize=9.5, colors="#111111")
    ax.tick_params(axis="y", which="minor", direction="in", length=6.5, width=0.8)
    ax.tick_params(axis="x", which="major", direction="inout", length=8.6, width=0.8, pad=-1.5,
                   labelsize=9.5, colors="#111111")
    ax.tick_params(axis="x", which="minor", direction="in", length=3, width=0.8)
    if p["ylabels"]:
        ax.yaxis.set_major_formatter(FormatStrFormatter("%g"))
    else:
        ax.yaxis.set_major_formatter(NullFormatter())
    if row == 2:
        ax.set_xticklabels(p["xlabels"])
        if p["first_left"]:
            ax.get_xticklabels()[0].set_horizontalalignment("left")
    else:
        ax.xaxis.set_major_formatter(NullFormatter())
    for s in ax.spines.values():
        s.set_linewidth(0.9)


def draw_points(ax, blue, red, err, marker, ms):
    for pts, c in ((red, RED), (blue, BLUE)):
        xy = np.array(pts)
        ax.plot(xy[:, 0], xy[:, 1], marker, ms=ms, color=c, mec=c, mew=0.3, ls="none", zorder=3)
    e = np.array(err)
    ax.errorbar(e[:, 0], e[:, 1], yerr=e[:, 2], fmt="none", ecolor="black",
                elinewidth=1.0, capsize=0, zorder=4)


def draw_panel(fig, p):
    x0, x1 = p["x_px"]
    axes = []
    for row in range(3):
        ax = fig.add_axes(px_rect(x0, x1, p["y_px"][row], p["y_px"][row + 1]))
        style_axes(ax, p, row)
        axes.append(ax)

    draw_points(axes[0], *p["top"], marker="s", ms=4.0)
    draw_points(axes[1], *p["rms"], marker="o", ms=4.3)
    for segs, c in ((p["cur"][1], RED), (p["cur"][0], BLUE)):
        s = np.array(segs)
        axes[2].hlines(s[:, 2], s[:, 0], s[:, 1], colors=c, lw=2.3, capstyle="projecting")

    # title box with drop shadow
    tx0, tx1, ty0, ty1 = p["title_px"]
    r0 = px_rect(tx0 + 3, tx1 + 3, ty0 + 3, ty1 + 3)
    fig.add_artist(Rectangle((r0[0], r0[1]), r0[2], r0[3], facecolor="black", edgecolor="none",
                             transform=fig.transFigure, zorder=1))
    r1 = px_rect(tx0, tx1, ty0, ty1)
    fig.add_artist(Rectangle((r1[0], r1[1]), r1[2], r1[3], facecolor="#e6e6e6",
                             edgecolor="black", lw=0.8, transform=fig.transFigure, zorder=2))
    fig.text((tx0 + tx1) / 2 / W, 1 - (ty0 + ty1) / 2 / H, p["title"], ha="center",
             va="center", fontsize=9.5, color="#222222", zorder=3)

    # x10^6 multiplier
    fig.text((x1 + 4) / W, 1 - (p["y_px"][3] - 1) / H, r"$\times$10$^{6}$", ha="left",
             va="bottom", fontsize=8.5, fontweight="normal", color="#333333")

    # row titles, only on the first panel
    if p["ylabels"]:
        for row, label in enumerate(ROW_TITLES):
            fig.text(22 / W, 1 - (p["y_px"][row] + 1) / H, label, rotation=90, ha="center",
                     va="top", fontsize=8.5)
    return axes


# =========================================================
# Figure
# =========================================================
fig = plt.figure(figsize=(W / 100, H / 100), dpi=100)
panel_axes = [draw_panel(fig, p) for p in PANELS]

# ---- reference lines across the three panels ----
ref_ax = panel_axes[0][0]
trans = mtransforms.blended_transform_factory(fig.transFigure, ref_ax.transData)
x_span = [PANELS[0]["x_px"][0] / W, PANELS[2]["x_px"][1] / W]
for levels, color, lw, dash in ((REF_UPPER, ORANGE, 2.2, (6, 7)),
                                (REF_LOWER, ORANGE, 2.2, (6, 7)),
                                (REF_NOMINAL, GREEN, 3.0, (12.5, 7.5))):
    ln = Line2D(x_span, levels, color=color, lw=lw, transform=trans, clip_on=False, zorder=5)
    ln.set_dashes(dash)
    fig.add_artist(ln)

# ---- hand-written dates ----
for xp, day, month in zip(DATE_X_PX, DATE_DAYS, DATE_MONTHS):
    fig.text(xp / W, 1 - 629 / H, day, ha="center", va="baseline", fontsize=17,
             style="italic", fontweight="normal", family=["Noto Sans", "DejaVu Sans"])
    fig.text(xp / W, 1 - 654 / H, month, ha="center", va="center", fontsize=17,
             style="italic", fontweight="normal", family=["Noto Sans", "DejaVu Sans"])

plt.savefig("out.png", dpi=100)
plt.close()
